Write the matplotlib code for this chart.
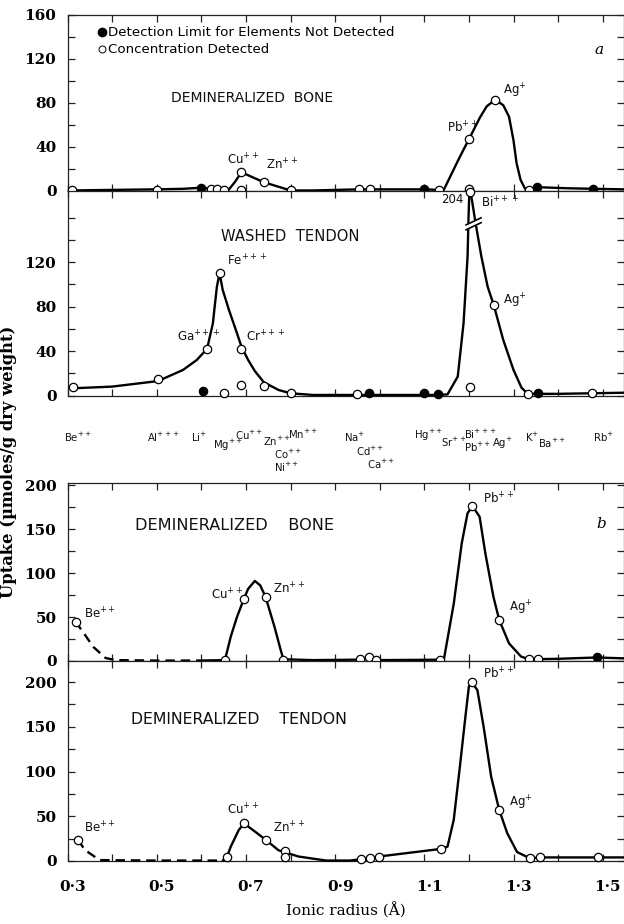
import numpy as np
import matplotlib
matplotlib.use("Agg")
import matplotlib.pyplot as plt
from matplotlib.transforms import blended_transform_factory, ScaledTranslation
from matplotlib.lines import Line2D

# ---------------- data ----------------
x_ticks = [0.3, 0.4, 0.5, 0.6, 0.7, 0.8, 0.9, 1.0, 1.1, 1.2, 1.3, 1.4, 1.5]
x_ticklabels = ["0·3", "", "0·5", "", "0·7", "", "0·9", "", "1·1", "", "1·3", "", "1·5"]

# Panel a, demineralized bone
a_curve_x = [0.309, 0.40, 0.50, 0.56, 0.60, 0.63, 0.66, 0.675, 0.69, 0.74, 0.80, 0.85, 0.954, 1.10,
             1.133, 1.143, 1.158, 1.176, 1.191, 1.20, 1.225, 1.24, 1.259, 1.277, 1.29, 1.30, 1.307,
             1.316, 1.326, 1.335, 1.352, 1.42, 1.478, 1.548]
a_curve_y = [0.5, 1, 1.5, 2, 3, 1.5, 0.5, 8, 17, 8, 0.5, 0.5, 1.5, 1.5,
             1, 0.5, 13, 28, 40, 47, 67, 77, 83, 78, 67.5, 46, 25,
             10, 2, 1, 3.5, 2.5, 2, 1.5]
a_open_x = [0.309, 0.50, 0.621, 0.636, 0.651, 0.69, 0.688, 0.74, 0.80, 0.954, 0.978, 1.133, 1.20, 1.20, 1.259, 1.335]
a_open_y = [1, 1.2, 1.5, 1.5, 1, 17, 0.5, 8, 1, 1.5, 1.5, 1, 47, 2, 83, 1]
a_fill_x = [0.60, 1.10, 1.352, 1.478]
a_fill_y = [2.5, 1.5, 3.5, 2]

# Panel a, washed tendon
t_curve_x = [0.313, 0.40, 0.503, 0.559, 0.59, 0.613, 0.626, 0.63, 0.635, 0.641, 0.648, 0.662, 0.68,
             0.69, 0.705, 0.72, 0.74, 0.773, 0.80, 0.85, 0.95, 1.0, 1.13, 1.152, 1.175, 1.188,
             1.197, 1.199, 1.201, 1.204, 1.215, 1.228, 1.242, 1.256, 1.277, 1.30, 1.318, 1.332,
             1.40, 1.548]
t_curve_y = [6.5, 8, 13, 23, 32, 42, 65, 80, 98, 110, 95, 77, 56,
             44, 32, 22, 12, 5, 2, 0.5, 0.5, 0.5, 0.5, 1, 17, 65,
             125, 158, 183, 183, 155, 125, 98, 81, 50, 23, 7, 1.5,
             1.5, 2.5]
t_open_x = [0.313, 0.503, 0.613, 0.641, 0.652, 0.69, 0.69, 0.74, 0.80, 0.95, 1.203, 1.256, 1.332, 1.477]
t_open_y = [7.4, 14.6, 42, 110, 2.5, 42, 9.5, 8.8, 2.5, 1.5, 7.4, 81, 1, 2.5]
t_fill_x = [0.603, 0.976, 1.10, 1.13, 1.355]
t_fill_y = [4.3, 2, 2, 1, 2.5]
t_bi_x, t_bi_value = 1.202, 204       # off-scale value, drawn at the break
t_break_top = 183

# Panel b, demineralized bone
b_dash_x = [0.318, 0.336, 0.358, 0.385, 0.407, 0.50, 0.595]
b_dash_y = [44.7, 32, 16, 3.5, 1, 0.5, 0.5]
b_curve_x = [0.595, 0.653, 0.666, 0.68, 0.695, 0.705, 0.72, 0.732, 0.744, 0.764, 0.778, 0.784, 0.85,
             0.95, 0.975, 1.0, 1.135, 1.144, 1.166, 1.184, 1.197, 1.208, 1.224, 1.237, 1.255,
             1.268, 1.29, 1.317, 1.335, 1.40, 1.487, 1.548]
b_curve_y = [0.5, 1, 27.6, 50, 70, 82, 91, 86, 73, 39, 12.5, 2, 1,
             1.5, 3, 1, 1.5, 2, 65, 134, 168, 176, 164, 122, 73,
             46.6, 20, 5, 2, 2.5, 4, 3]
b_open_x = [0.318, 0.653, 0.695, 0.744, 0.784, 0.956, 0.975, 0.992, 1.135, 1.208, 1.268, 1.335, 1.355]
b_open_y = [44.7, 1, 70, 73, 1.5, 2, 4, 1, 1.5, 176, 46.6, 2, 2]
b_fill_x = [1.487]
b_fill_y = [4]

# Panel b, demineralized tendon
d_dash_x = [0.323, 0.34, 0.372, 0.50, 0.648]
d_dash_y = [23.5, 12, 1, 0.5, 0.5]
d_curve_x = [0.648, 0.657, 0.666, 0.684, 0.696, 0.72, 0.745, 0.773, 0.818, 0.88, 0.933, 0.959, 0.978,
             0.998, 1.137, 1.152, 1.166, 1.179, 1.193, 1.20, 1.206, 1.219, 1.233, 1.25, 1.268,
             1.286, 1.308, 1.337, 1.359, 1.489, 1.548]
d_curve_y = [0.5, 4, 16, 34.6, 42, 33, 23.5, 12, 5, 0.5, 0.5, 2, 3,
             5, 13.5, 16, 46, 102, 165, 195, 200, 191, 150, 94, 57,
             31, 10, 3, 4, 4, 4]
d_open_x = [0.323, 0.657, 0.696, 0.745, 0.787, 0.787, 0.959, 0.978, 0.998, 1.137, 1.206, 1.268, 1.337, 1.359, 1.489]
d_open_y = [23.5, 4, 42, 23.5, 11, 5, 2, 3, 5, 13.5, 200, 57, 3, 4, 4]

# ion labels of the middle row: text, radius where the label starts, row offset
ion_names = [r"Be$^{++}$", r"Al$^{+++}$", r"Li$^{+}$", r"Mg$^{++}$", r"Cu$^{++}$", r"Zn$^{++}$",
             r"Mn$^{++}$", r"Co$^{++}$", r"Ni$^{++}$", r"Na$^{+}$", r"Cd$^{++}$", r"Ca$^{++}$",
             r"Hg$^{++}$", r"Sr$^{++}$", r"Bi$^{+++}$", r"Pb$^{++}$", r"Ag$^{+}$", r"K$^{+}$",
             r"Ba$^{++}$", r"Rb$^{+}$"]
ion_x = [0.292, 0.478, 0.577, 0.626, 0.676, 0.739, 0.794, 0.764, 0.764, 0.92, 0.946, 0.972,
         1.077, 1.138, 1.189, 1.189, 1.252, 1.326, 1.354, 1.478]
ion_row = [0, 0, 0, 0.8, -0.1, 0.4, -0.2, 1.6, 2.75, 0, 1.35, 2.5,
           -0.1, 0.45, -0.25, 0.95, 0.55, 0, 0.6, 0]

# ---------------- figure ----------------
W, H = 624, 924
fig = plt.figure(figsize=(W / 100, H / 100), dpi=100)
SANS = ["DejaVu Sans"]
SERIF = ["DejaVu Serif"]

left = 67.5 / W
width = 1.0 - left
xmax = 0.3 + (W - 67.5) / 446.0


def make_ax(top_px, bot_px, ylim, ymajor, yminor):
    ax = fig.add_axes([left, 1 - bot_px / H, width, (bot_px - top_px) / H])
    ax.set_xlim(0.3, xmax)
    ax.set_ylim(*ylim)
    ax.set_xticks(x_ticks)
    ax.set_xticklabels([])
    ax.set_yticks(ymajor)
    ax.set_yticks(yminor, minor=True)
    ax.tick_params(axis="both", which="both", direction="in", top=True, right=True,
                   length=5, width=0.9, color="#222222")
    ax.tick_params(axis="y", labelsize=11, pad=8)
    for lab in ax.get_yticklabels():
        lab.set_family(SERIF)
        lab.set_fontweight("bold")
    for s in ax.spines.values():
        s.set_linewidth(0.9)
        s.set_color("#222222")
    return ax


LW = 1.7
MS = 6.0


def draw_curve(ax, x, y, dashed=False):
    ax.plot(x, y, color="black", lw=LW, ls=(0, (4, 2.5)) if dashed else "-",
            solid_capstyle="round", clip_on=False, zorder=3)


def draw_points(ax, x, y, filled):
    ax.plot(x, y, ls="none", marker="o", ms=MS, mew=0.9, mec="black",
            mfc="black" if filled else "white", clip_on=False, zorder=4)


def lab(ax, x, y, s, size=8.5, **kw):
    ax.text(x, y, s, fontsize=size, family=SANS, color="#111111", **kw)


# ---- panel a: demineralized bone ----
ax1 = make_ax(15, 191, (0, 160), [0, 40, 80, 120, 160], np.arange(0, 161, 20))
draw_curve(ax1, a_curve_x, a_curve_y)
draw_points(ax1, a_open_x, a_open_y, False)
draw_points(ax1, a_fill_x, a_fill_y, True)
lab(ax1, 0.532, 85, "DEMINERALIZED  BONE", size=10, va="center")
lab(ax1, 0.657, 21, r"Cu$^{++}$", va="bottom")
lab(ax1, 0.745, 17, r"Zn$^{++}$", va="bottom")
lab(ax1, 1.15, 50, r"Pb$^{++}$", va="bottom")
lab(ax1, 1.276, 91, r"Ag$^{+}$", va="center")
ax1.text(1.492, 128, "a", fontsize=11, family=SERIF, style="italic", ha="center", va="center")
handles = [Line2D([], [], ls="none", marker="o", ms=MS, mfc="black", mec="black"),
           Line2D([], [], ls="none", marker="o", ms=MS - 1, mfc="white", mec="black", mew=0.7)]
leg = ax1.legend(handles, ["Detection Limit for Elements Not Detected", "Concentration Detected"],
                 loc="upper left", bbox_to_anchor=(0.045, 0.965), frameon=False,
                 handlelength=0.6, handletextpad=0.15, borderaxespad=0, labelspacing=0.3,
                 prop={"family": SANS, "size": 9.6})

# ---- panel a: washed tendon ----
ax2 = make_ax(191, 395.5, (0, 184), [0, 40, 80, 120], np.arange(0, 161, 20))
draw_curve(ax2, t_curve_x, t_curve_y)
draw_points(ax2, t_open_x, t_open_y, False)
draw_points(ax2, t_fill_x, t_fill_y, True)
draw_points(ax2, [t_bi_x], [min(t_bi_value, t_break_top)], False)
# axis break marks on the Bi peak
bx = np.array([1.192, 1.229])
for dy, c, lw in [(0, "white", 4.0), (-2.2, "black", 1.2), (2.2, "black", 1.2)]:
    ax2.plot(bx, np.array([151, 158]) + dy, color=c, lw=lw, zorder=5, solid_capstyle="butt")
lab(ax2, 1.137, 176, str(t_bi_value), va="center")
lab(ax2, 1.228, 173, r"Bi$^{+++}$", va="center")
lab(ax2, 0.644, 143, "WASHED  TENDON", size=10.6, va="center")
lab(ax2, 0.657, 114, r"Fe$^{+++}$", va="bottom")
lab(ax2, 0.546, 46, r"Ga$^{+++}$", va="bottom")
lab(ax2, 0.70, 46, r"Cr$^{+++}$", va="bottom")
lab(ax2, 1.276, 77, r"Ag$^{+}$", va="bottom")

# ---- panel b: demineralized bone ----
ax3 = make_ax(483, 661, (0, 202.3), [0, 50, 100, 150, 200], np.arange(0, 201, 25))
draw_curve(ax3, b_dash_x, b_dash_y, dashed=True)
draw_curve(ax3, b_curve_x, b_curve_y)
draw_points(ax3, b_open_x, b_open_y, False)
draw_points(ax3, b_fill_x, b_fill_y, True)
lab(ax3, 0.452, 154, "DEMINERALIZED    BONE", size=11.6, va="center")
lab(ax3, 0.336, 45, r"Be$^{++}$", va="bottom")
lab(ax3, 0.622, 66, r"Cu$^{++}$", va="bottom")
lab(ax3, 0.76, 73, r"Zn$^{++}$", va="bottom")
lab(ax3, 1.232, 176, r"Pb$^{++}$", va="bottom")
lab(ax3, 1.29, 50, r"Ag$^{+}$", va="bottom")
ax3.text(1.496, 156, "b", fontsize=11, family=SERIF, style="italic", ha="center", va="center")

# ---- panel b: demineralized tendon ----
ax4 = make_ax(661, 861, (0, 223.5), [0, 50, 100, 150, 200], np.arange(0, 201, 25))
draw_curve(ax4, d_dash_x, d_dash_y, dashed=True)
draw_curve(ax4, d_curve_x, d_curve_y)
draw_points(ax4, d_open_x, d_open_y, False)
lab(ax4, 0.443, 158, "DEMINERALIZED    TENDON", size=11.3, va="center")
lab(ax4, 0.336, 28, r"Be$^{++}$", va="bottom")
lab(ax4, 0.657, 48, r"Cu$^{++}$", va="bottom")
lab(ax4, 0.76, 28, r"Zn$^{++}$", va="bottom")
lab(ax4, 1.232, 200, r"Pb$^{++}$", va="bottom")
lab(ax4, 1.29, 55, r"Ag$^{+}$", va="bottom")
ax4.set_xticklabels(x_ticklabels)
ax4.tick_params(axis="x", labelsize=11, pad=14)
shift = ScaledTranslation(5 / 100, 0, fig.dpi_scale_trans)
for t in ax4.get_xticklabels():
    t.set_family(SERIF)
    t.set_fontweight("bold")
    t.set_transform(t.get_transform() + shift)
ax4.set_xlabel("Ionic radius (Å)", family=SERIF, fontsize=11, labelpad=6)

# ---- middle row of ion names ----
tr = blended_transform_factory(ax2.transData, fig.transFigure)
for name, xr, row in zip(ion_names, ion_x, ion_row):
    fig.text(xr, 1 - (437 + row * 11) / H, name, transform=tr, fontsize=7.3,
             family=SANS, ha="left", va="center", color="#111111")

fig.text(0.014, 1 - 462 / H, "Uptake (µmoles/g dry weight)", rotation=90, family=SERIF,
         fontsize=11.8, fontweight="bold", ha="center", va="center")

fig.savefig("out.png", dpi=100, facecolor="white")
